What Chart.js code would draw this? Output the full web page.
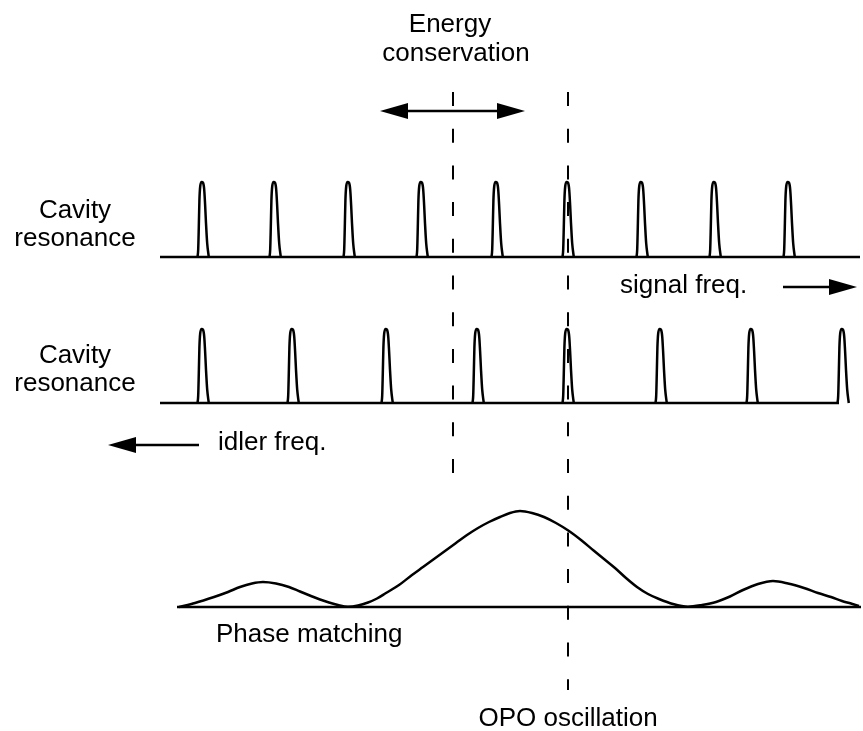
<!DOCTYPE html>
<html>
<head>
<meta charset="utf-8">
<script src="https://cdn.jsdelivr.net/npm/chart.js@4.4.0/dist/chart.umd.min.js"></script>
<style>
  body { margin: 0; background: #fff; }
  #wrap { width: 863px; height: 731px; }
</style>
</head>
<body>
<div id="wrap"><canvas id="chart"></canvas></div>
<script>
// cavity mode frequencies (figure units along the frequency axis)
const signalModes = [203, 275, 349, 422, 497, 568, 642, 715, 789];
const idlerModes = [203, 293, 387, 478, 568, 661, 752, 843];

// shape of one resonance: offset from the mode centre and relative height
const peakOffsets = [-5.5, -4.8, -4.2, -3.6, -2.8, -1.4, 0, 1.2, 2.1, 3, 4.2, 5.8];
const peakHeights = [0, 0.1, 0.4, 0.75, 0.94, 1, 0.99, 0.9, 0.7, 0.45, 0.18, 0];

// phase matching curve, amplitude above its baseline
const phaseFreq = [179, 195, 214, 228, 240, 252, 263, 276, 289, 300, 311, 320, 329, 338, 348,
  358, 368, 377, 386, 399, 412, 423, 434, 445, 456, 467, 478, 489, 500, 510, 520,
  532, 544, 556, 569, 581, 593, 604, 615, 626, 637, 648, 659, 673, 688,
  702, 716, 730, 743, 758, 773, 788, 804, 818, 831, 842, 851, 859];
const phaseAmp = [0, 4, 10, 15, 20, 23.5, 25, 23.5, 20, 15.5, 11, 7.5, 4.5, 2, 0.3,
  1.5, 4.5, 8.5, 14, 22, 32, 40, 48, 56, 64, 72, 79, 85, 90, 94, 96,
  94, 90, 84, 76, 67, 57, 48, 39, 29, 20, 13, 8, 3, 0.3,
  2, 5, 10.5, 17, 23, 26, 23.5, 19, 14, 10, 6, 3.5, 1];

// marker frequencies
const energyMarker = 453;
const oscillationMarker = 568;

// layout of the three panels
const signalPanel = { base: 257, height: 75, from: 160, to: 860 };
const idlerPanel = { base: 403, height: 74, from: 160, to: 839 };
const phasePanel = { base: 607, from: 177, to: 861 };

const FONT = '26px "Liberation Sans", Arial, sans-serif';

function resonances(modes, panel) {
  const pts = [];
  modes.forEach((c) => {
    peakOffsets.forEach((dx, i) => {
      pts.push({ x: c + dx, y: panel.base - peakHeights[i] * panel.height });
    });
    pts.push({ x: c + 6.5, y: null });
  });
  return pts;
}

function lineSet(data, extra) {
  return Object.assign({
    data: data,
    showLine: true,
    borderColor: '#000',
    borderWidth: 2.5,
    pointRadius: 0,
    fill: false,
    spanGaps: false
  }, extra || {});
}

const datasets = [
  lineSet([{ x: signalPanel.from, y: signalPanel.base }, { x: signalPanel.to, y: signalPanel.base }]),
  lineSet([{ x: idlerPanel.from, y: idlerPanel.base }, { x: idlerPanel.to, y: idlerPanel.base }]),
  lineSet([{ x: phasePanel.from, y: phasePanel.base }, { x: phasePanel.to, y: phasePanel.base }]),
  lineSet(resonances(signalModes, signalPanel), { cubicInterpolationMode: 'monotone' }),
  lineSet(resonances(idlerModes, idlerPanel), { cubicInterpolationMode: 'monotone' }),
  lineSet(phaseFreq.map((f, i) => ({ x: f, y: phasePanel.base - phaseAmp[i] })),
    { cubicInterpolationMode: 'monotone' }),
  lineSet([{ x: energyMarker, y: 92 }, { x: energyMarker, y: 473 }], { borderDash: [14, 22.7], borderWidth: 2 }),
  lineSet([{ x: oscillationMarker, y: 92 }, { x: oscillationMarker, y: 690 }], { borderDash: [14, 22.7], borderWidth: 2 })
];

// arrows: [from x, to x, y, head at start, head at end]
const arrows = [
  [380, 525, 111, true, true],
  [783, 857, 287, false, true],
  [199, 108, 445, false, true]
];

const labels = [
  ['Energy', 450, 32, 'center'],
  ['conservation', 456, 61, 'center'],
  ['Cavity', 75, 218, 'center'],
  ['resonance', 75, 246, 'center'],
  ['Cavity', 75, 363, 'center'],
  ['resonance', 75, 391, 'center'],
  ['signal freq.', 620, 293, 'left'],
  ['idler freq.', 218, 450, 'left'],
  ['Phase matching', 216, 642, 'left'],
  ['OPO oscillation', 568, 726, 'center']
];

const extras = {
  id: 'extras',
  afterDatasetsDraw(chart) {
    const ctx = chart.ctx;
    const xs = chart.scales.x, ys = chart.scales.y;
    ctx.save();
    ctx.strokeStyle = '#000';
    ctx.fillStyle = '#000';
    ctx.lineWidth = 2.5;
    function head(tipX, dir, py) {
      const len = 28, half = 8;
      ctx.beginPath();
      ctx.moveTo(tipX, py);
      ctx.lineTo(tipX - dir * len, py - half);
      ctx.lineTo(tipX - dir * len, py + half);
      ctx.closePath();
      ctx.fill();
    }
    arrows.forEach(([a, b, y, hs, he]) => {
      const x1 = xs.getPixelForValue(a), x2 = xs.getPixelForValue(b), py = ys.getPixelForValue(y);
      const dir = Math.sign(x2 - x1);
      ctx.beginPath();
      ctx.moveTo(hs ? x1 + dir * 20 : x1, py);
      ctx.lineTo(he ? x2 - dir * 20 : x2, py);
      ctx.stroke();
      if (hs) head(x1, -dir, py);
      if (he) head(x2, dir, py);
    });
    ctx.font = FONT;
    ctx.textBaseline = 'alphabetic';
    labels.forEach(([t, x, y, align]) => {
      ctx.textAlign = align;
      ctx.fillText(t, xs.getPixelForValue(x), ys.getPixelForValue(y));
    });
    ctx.restore();
  }
};

new Chart(document.getElementById('chart'), {
  type: 'scatter',
  data: { datasets: datasets },
  options: {
    responsive: true,
    maintainAspectRatio: false,
    animation: false,
    layout: { padding: 0 },
    plugins: { legend: { display: false }, tooltip: { enabled: false } },
    scales: {
      x: { type: 'linear', min: 0, max: 863, display: false },
      y: { type: 'linear', min: 0, max: 731, reverse: true, display: false }
    }
  },
  plugins: [extras]
});
</script>
</body>
</html>
